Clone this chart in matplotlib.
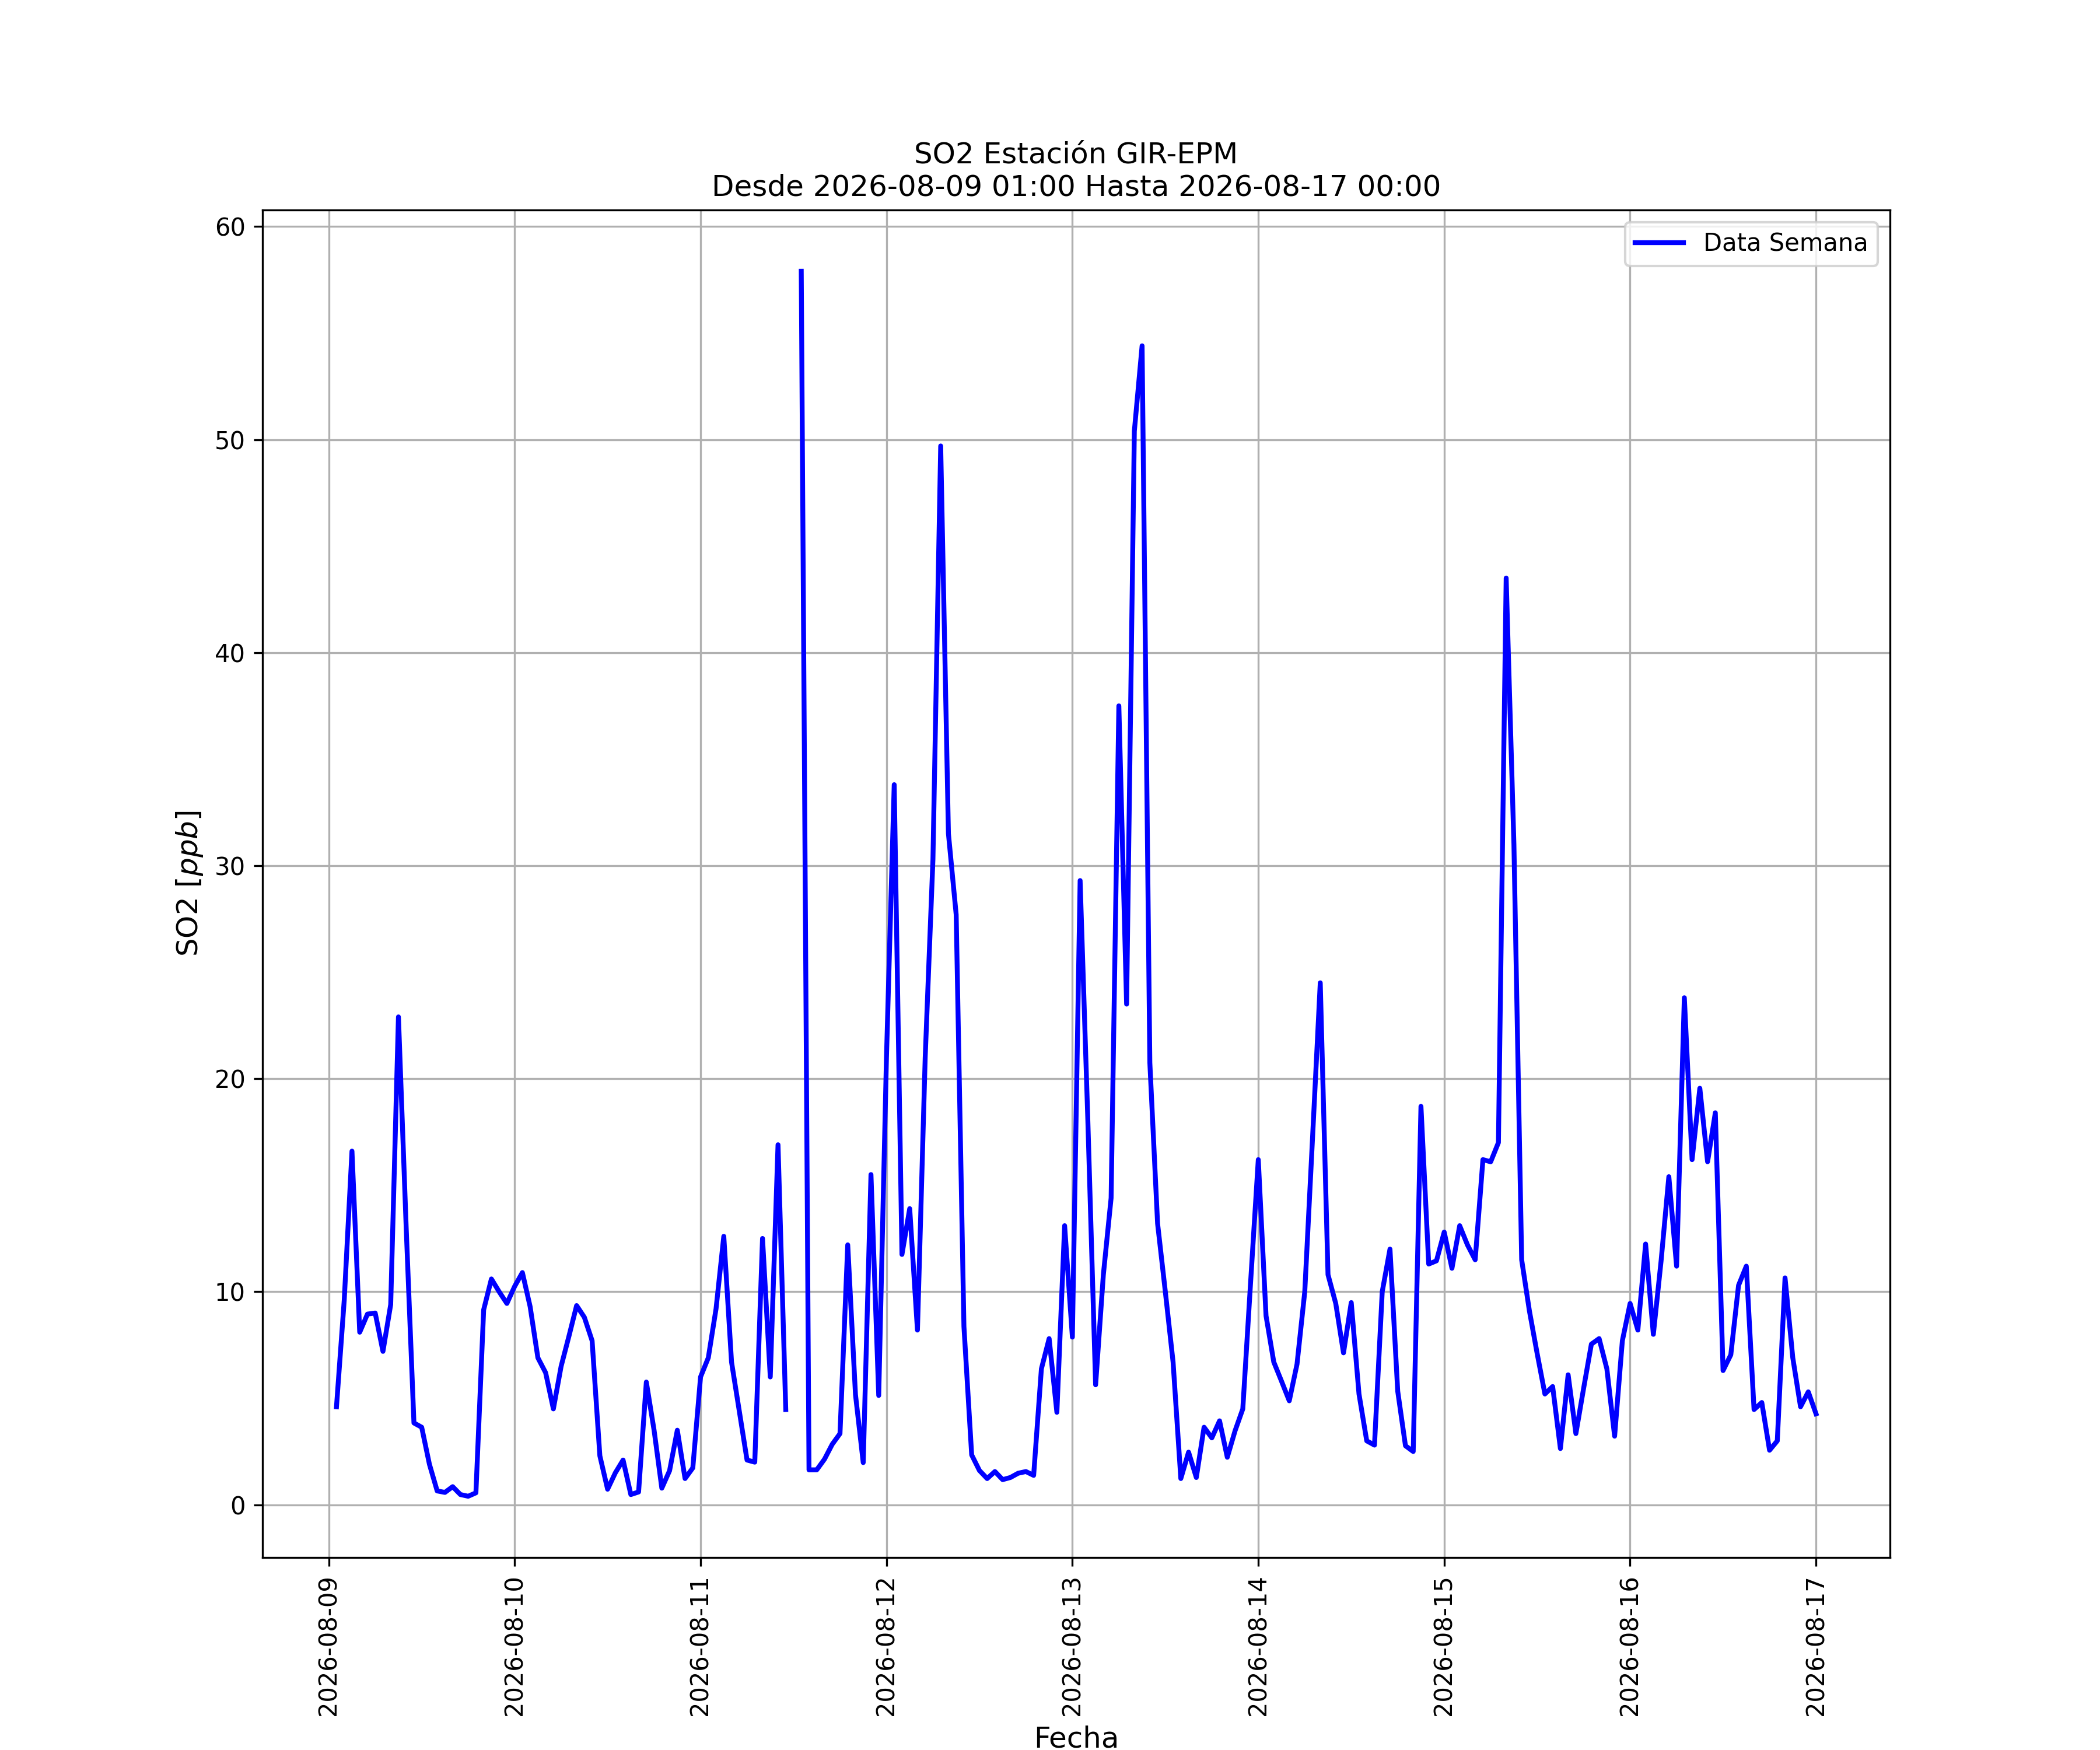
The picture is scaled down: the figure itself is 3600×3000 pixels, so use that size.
import matplotlib
matplotlib.use('Agg')
import matplotlib.pyplot as plt
import matplotlib.dates as mdates
import numpy as np
import pandas as pd

# hourly SO2 readings (ppb), one list per day
day_09 = [4.6, 9.6, 16.6, 8.1, 8.95, 9.0, 7.2, 9.4, 22.9, 13.0, 3.84, 3.64,
          1.9, 0.65, 0.58, 0.85, 0.48, 0.4, 0.56, 9.15, 10.6, 10.0, 9.45]  # from 01:00
day_10 = [10.25, 10.9, 9.3, 6.9, 6.2, 4.5, 6.5, 7.9, 9.35, 8.8, 7.7, 2.3,
          0.73, 1.5, 2.1, 0.48, 0.6, 5.76, 3.5, 0.78, 1.6, 3.5, 1.23, 1.73]
day_11 = [6.0, 6.9, 9.2, 12.6, 6.7, 4.4, 2.1, 2.0, 12.5, 6.0, 16.9, 4.47,
          np.nan, 57.9, 1.64, 1.64, 2.14, 2.84, 3.34, 12.2, 5.17, 1.98, 15.5, 5.13]
day_12 = [21.0, 33.8, 11.75, 13.9, 8.2, 21.0, 30.3, 49.7, 31.5, 27.7, 8.37, 2.34,
          1.61, 1.23, 1.56, 1.18, 1.28, 1.48, 1.56, 1.38, 6.38, 7.8, 4.34, 13.1]
day_13 = [7.87, 29.3, 18.0, 5.63, 10.8, 14.4, 37.5, 23.5, 50.4, 54.4, 20.75, 13.2,
          10.0, 6.7, 1.23, 2.47, 1.28, 3.64, 3.14, 3.94, 2.23, 3.47, 4.5, 10.4]
day_14 = [16.2, 8.87, 6.7, 5.8, 4.88, 6.6, 10.0, 17.2, 24.5, 10.8, 9.45, 7.13,
          9.49, 5.2, 3.0, 2.8, 10.0, 12.0, 5.33, 2.77, 2.5, 18.7, 11.3, 11.45]
day_15 = [12.8, 11.1, 13.1, 12.2, 11.5, 16.2, 16.1, 17.0, 43.5, 31.0, 11.5, 9.1,
          7.1, 5.2, 5.55, 2.64, 6.1, 3.34, 5.47, 7.54, 7.8, 6.38, 3.22, 7.7]
day_16 = [9.45, 8.2, 12.24, 8.0, 11.45, 15.4, 11.2, 23.8, 16.2, 19.55, 16.1, 18.4,
          6.3, 7.04, 10.3, 11.2, 4.47, 4.8, 2.56, 3.0, 10.65, 6.9, 4.6, 5.3]
day_17 = [4.27]  # 00:00

so2_values = day_09 + day_10 + day_11 + day_12 + day_13 + day_14 + day_15 + day_16 + day_17
fechas = pd.date_range('2026-08-09 01:00', '2026-08-17 00:00', freq='h')

start_label = '2026-08-09 01:00'
end_label = '2026-08-17 00:00'
station = 'GIR-EPM'

if __name__ == '__main__':
    plt.figure(figsize=(12, 10))
    plt.plot(fechas, so2_values, color='blue', linewidth=2, label='Data Semana')

    plt.title(f'SO2 Estación {station}\nDesde {start_label} Hasta {end_label}')
    plt.xlabel('Fecha', fontsize=12)
    plt.ylabel('SO2 [$ppb$]', fontsize=12)

    ax = plt.gca()
    ax.xaxis.set_major_locator(mdates.DayLocator())
    ax.xaxis.set_major_formatter(mdates.DateFormatter('%Y-%m-%d'))
    plt.xticks(rotation=90)

    plt.grid(True)
    plt.legend(loc='upper right')

    plt.savefig('out.png', dpi=300)
